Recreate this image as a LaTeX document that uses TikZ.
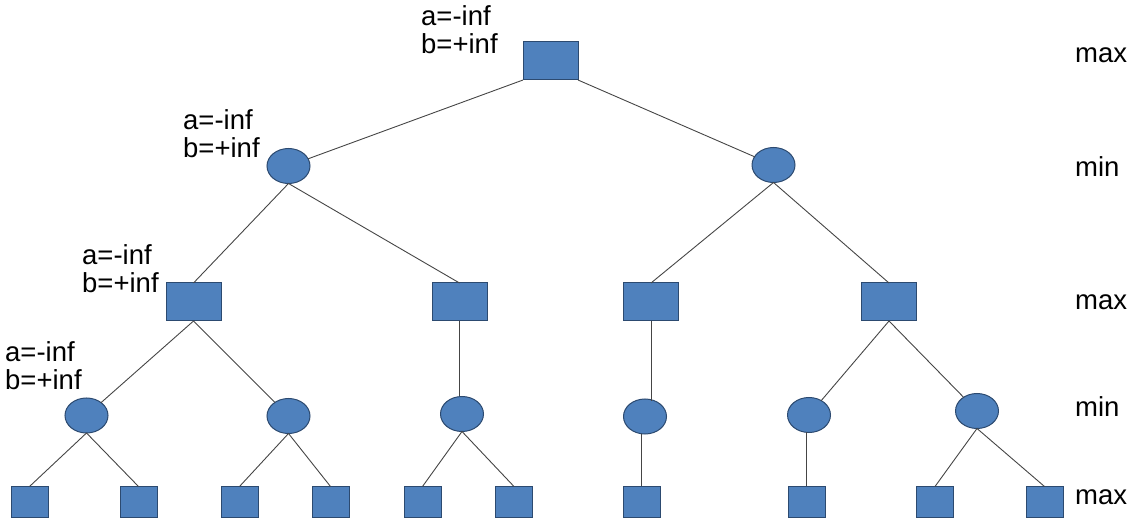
\documentclass[tikz,border=0pt]{standalone}
\usepackage{fontspec}
\setmainfont{Liberation Sans}
\usetikzlibrary{shapes.geometric}
\definecolor{nodefill}{HTML}{4F81BD}
\definecolor{nodeedge}{HTML}{2C4A70}
\definecolor{edgecol}{HTML}{454545}
\begin{document}
\begin{tikzpicture}[x=1pt,y=-1pt,
  bigbox/.style={draw=nodeedge,fill=nodefill,line width=1pt,minimum width=55pt,minimum height=38pt,inner sep=0pt,outer sep=0pt},
  smallbox/.style={draw=nodeedge,fill=nodefill,line width=1pt,minimum width=37pt,minimum height=31pt,inner sep=0pt,outer sep=0pt},
  minnode/.style={ellipse,draw=nodeedge,fill=nodefill,line width=1pt,minimum width=43pt,minimum height=35pt,inner sep=0pt,outer sep=0pt},
  link/.style={draw=edgecol,line width=0.9pt},
  ab/.style={align=left,anchor=west,inner sep=0pt,font=\fontsize{27.5}{28}\selectfont},
  lvl/.style={anchor=base west,inner sep=0pt,font=\fontsize{27.5}{28}\selectfont}]
\useasboundingbox (0,0) rectangle (1136,518);
% level 1
\node[bigbox] (r) at (550.5,61) {};
% level 2
\node[minnode] (m1) at (288.5,166) {};
\node[minnode] (m2) at (773.5,165) {};
% level 3
\node[bigbox] (x1) at (193.5,302) {};
\node[bigbox] (x2) at (459.5,302) {};
\node[bigbox] (x3) at (651,302) {};
\node[bigbox] (x4) at (889,302) {};
% level 4
\node[minnode] (n1) at (86.5,415.5) {};
\node[minnode] (n2) at (288.5,416) {};
\node[minnode] (n3) at (462,414) {};
\node[minnode] (n4) at (645,416.5) {};
\node[minnode] (n5) at (809,415) {};
\node[minnode] (n6) at (977,411) {};
% level 5
\node[smallbox] (l1) at (29.5,502) {};
\node[smallbox] (l2) at (138.5,502) {};
\node[smallbox] (l3) at (239.5,502) {};
\node[smallbox] (l4) at (330.5,502) {};
\node[smallbox] (l5) at (422.5,502) {};
\node[smallbox] (l6) at (514,502) {};
\node[smallbox] (l7) at (641.5,502) {};
\node[smallbox] (l8) at (806.5,502) {};
\node[smallbox] (l9) at (935,502) {};
\node[smallbox] (l10) at (1044.5,502) {};
% edges
\draw[link] (r.south west) -- (m1);
\draw[link] (r.south east) -- (m2);
\draw[link] (m1.south) -- (x1.north);
\draw[link] (m1.south) -- (x2.north);
\draw[link] (m2.south) -- (x3.north);
\draw[link] (m2.south) -- (x4.north);
\draw[link] (x1.south) -- (n1);
\draw[link] (x1.south) -- (n2);
\draw[link] (x2.south) -- (n3.north -| x2.south);
\draw[link] (x3.south) -- ([yshift=-2pt]n4.north -| x3.south);
\draw[link] (x4.south) -- (n5);
\draw[link] (x4.south) -- (n6);
\draw[link] (n1.south) -- (l1.north);
\draw[link] (n1.south) -- (l2.north);
\draw[link] (n2.south) -- (l3.north);
\draw[link] (n2.south) -- (l4.north);
\draw[link] (n3.south) -- (l5.north);
\draw[link] (n3.south) -- (l6.north);
\draw[link] (n4.south -| l7.north) -- (l7.north);
\draw[link] (n5.south -| l8.north) -- (l8.north);
\draw[link] (n6.south) -- (l9.north);
\draw[link] (n6.south) -- (l10.north);
% annotations
\node[ab] (t1) at (421,30) {a=-inf\\b=+inf};
\node[ab] (t2) at (183,134) {a=-inf\\b=+inf};
\node[ab] (t3) at (82,269) {a=-inf\\b=+inf};
\node[ab] (t4) at (5,366) {a=-inf\\b=+inf};
% level labels
\node[lvl] (k1) at (1075,63) {max};
\node[lvl] (k2) at (1075,177) {min};
\node[lvl] (k3) at (1075,310) {max};
\node[lvl] (k4) at (1075,417) {min};
\node[lvl] (k5) at (1075,505) {max};
\end{tikzpicture}
\end{document}
